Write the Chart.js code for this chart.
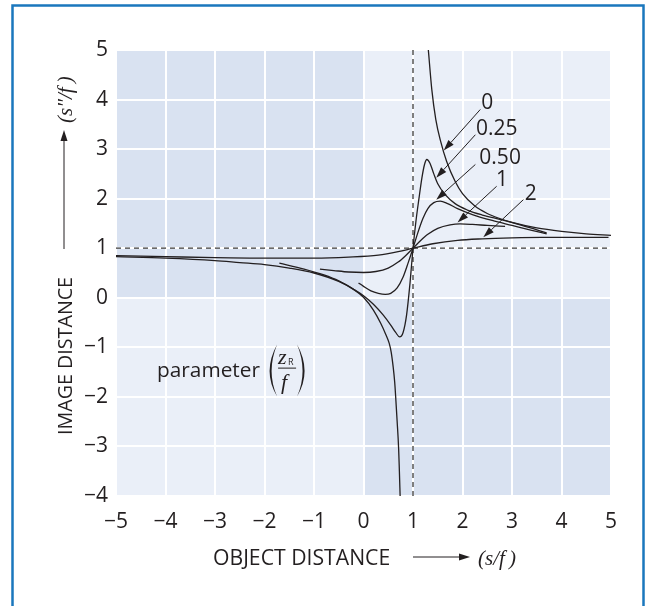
<!DOCTYPE html>
<html>
<head>
<meta charset="utf-8">
<script src="https://cdn.jsdelivr.net/npm/chart.js@4.4.1/dist/chart.umd.min.js"></script>
<style>
  html, body { margin: 0; padding: 0; background: #fff; }
</style>
</head>
<body>
<canvas id="imageChart" width="654" height="606"></canvas>
<script>
// tick labels
const xTickValues = [-5, -4, -3, -2, -1, 0, 1, 2, 3, 4, 5];
const yTickValues = [-4, -3, -2, -1, 0, 1, 2, 3, 4, 5];
const curveNames = ['0', '0.25', '0.50', '1', '2'];

// zR/f = 0 (two branches)
const zeroLeftX = [-5, -4, -3, -2.5, -2, -1.5, -1, -0.5, -0.2, 0, 0.2, 0.35, 0.45, 0.52, 0.56, 0.6, 0.63, 0.65, 0.68, 0.71, 0.725, 0.74];
const zeroLeftY = [0.83, 0.8, 0.75, 0.71, 0.67, 0.6, 0.5, 0.33, 0.17, 0.01, -0.25, -0.52, -0.74, -0.92, -1.1, -1.4, -1.7, -2.0, -2.5, -3.05, -3.5, -4.0];
const zeroRightX = [1.31, 1.38, 1.46, 1.56, 1.68, 1.85, 2.0, 2.25, 2.5, 2.75, 3.0, 3.5, 4.0, 4.5, 5.0];
const zeroRightY = [5.0, 4.2, 3.6, 3.15, 2.75, 2.35, 2.1, 1.85, 1.7, 1.6, 1.52, 1.41, 1.34, 1.29, 1.26];

// zR/f = 0.25
const quarterX = [-1.7, -1.2, -0.8, -0.5, -0.2, 0, 0.2, 0.4, 0.55, 0.65, 0.73, 0.8, 0.87, 0.94, 1.0, 1.06, 1.12, 1.18, 1.23, 1.28, 1.34, 1.42, 1.5, 1.65, 1.85, 2.1, 2.4, 2.8, 3.2, 3.7];
const quarterY = [0.70, 0.58, 0.46, 0.34, 0.17, 0.04, -0.13, -0.35, -0.55, -0.70, -0.79, -0.70, -0.35, 0.30, 1.0, 1.55, 2.0, 2.42, 2.68, 2.79, 2.72, 2.5, 2.3, 2.08, 1.9, 1.77, 1.67, 1.57, 1.46, 1.31];

// zR/f = 0.50
const halfX = [-0.1, 0, 0.15, 0.3, 0.44, 0.55, 0.68, 0.8, 0.9, 1.0, 1.1, 1.2, 1.3, 1.42, 1.55, 1.7, 1.9, 2.2, 2.6, 3.0, 3.4, 3.7];
const halfY = [0.30, 0.23, 0.14, 0.09, 0.07, 0.09, 0.2, 0.42, 0.7, 1.0, 1.32, 1.6, 1.8, 1.92, 1.95, 1.9, 1.8, 1.68, 1.56, 1.46, 1.36, 1.29];

// zR/f = 1
const oneX = [-0.88, -0.6, -0.3, 0, 0.25, 0.5, 0.7, 0.85, 1.0, 1.15, 1.3, 1.5, 1.75, 1.95, 2.2, 2.5, 2.86];
const oneY = [0.58, 0.55, 0.52, 0.51, 0.53, 0.6, 0.72, 0.85, 1.0, 1.15, 1.28, 1.4, 1.47, 1.49, 1.48, 1.46, 1.44];

// zR/f = 2
const twoX = [-5, -4, -3, -2, -1, -0.3, 0.3, 0.7, 1.0, 1.4, 1.9, 2.4, 3.0, 3.6, 4.2, 4.95];
const twoY = [0.85, 0.83, 0.81, 0.80, 0.80, 0.82, 0.86, 0.93, 1.0, 1.09, 1.16, 1.19, 1.21, 1.22, 1.22, 1.22];

const ink = '#231f20';
const sans = '"Open Sans", "Noto Sans", sans-serif';
const serif = '"Liberation Serif", "DejaVu Serif", serif';

function toPoints(xs, ys) {
  return xs.map((x, i) => ({ x: x, y: ys[i] }));
}

function curve(label, xs, ys) {
  return {
    label: label,
    data: toPoints(xs, ys),
    showLine: true,
    borderColor: ink,
    borderWidth: 1.3,
    pointRadius: 0,
    fill: false,
    cubicInterpolationMode: 'monotone'
  };
}

function arrow(ctx, x1, y1, x2, y2, head, half) {
  const ang = Math.atan2(y2 - y1, x2 - x1);
  const bx = x2 - head * Math.cos(ang), by = y2 - head * Math.sin(ang);
  ctx.beginPath();
  ctx.moveTo(x1, y1);
  ctx.lineTo(bx, by);
  ctx.stroke();
  ctx.beginPath();
  ctx.moveTo(x2, y2);
  ctx.lineTo(bx + half * Math.sin(ang), by - half * Math.cos(ang));
  ctx.lineTo(bx - half * Math.sin(ang), by + half * Math.cos(ang));
  ctx.closePath();
  ctx.fill();
}

// draw text sized so it spans a given width
function fitText(ctx, text, x, y, width, style, family) {
  ctx.font = style + ' 20px ' + family;
  const size = 20 * width / ctx.measureText(text).width;
  ctx.font = style + ' ' + size.toFixed(1) + 'px ' + family;
  ctx.fillText(text, x, y);
}

// curve labels with arrows, in data units
const notes = [
  { text: curveNames[0], at: [2.50, 3.93], from: [2.36, 3.80], to: [1.62, 2.97] },
  { text: curveNames[1], at: [2.69, 3.41], from: [2.26, 3.29], to: [1.47, 2.42] },
  { text: curveNames[2], at: [2.76, 2.82], from: [2.26, 2.69], to: [1.47, 1.98] },
  { text: curveNames[3], at: [2.80, 2.38], from: [2.69, 2.25], to: [1.90, 1.52] },
  { text: curveNames[4], at: [3.38, 2.10], from: [3.23, 1.98], to: [2.42, 1.22] }
];

const decor = {
  id: 'decor',
  beforeDraw(chart) {
    const { ctx, chartArea: a, scales: { x, y } } = chart;
    ctx.save();
    ctx.fillStyle = '#fff';
    ctx.fillRect(0, 0, chart.width, chart.height);
    ctx.strokeStyle = '#1a77bd';
    ctx.lineWidth = 2.5;
    ctx.strokeRect(12.5, 5.5, 631, 640);

    const x0 = x.getPixelForValue(0), y0 = y.getPixelForValue(0);
    ctx.fillStyle = '#eaeff8';
    ctx.fillRect(a.left, a.top, a.width, a.height);
    ctx.fillStyle = '#d9e2f1';
    ctx.fillRect(a.left, a.top, x0 - a.left, y0 - a.top);
    ctx.fillRect(x0, y0, a.right - x0, a.bottom - y0);
    ctx.restore();
  },
  beforeDatasetsDraw(chart) {
    const { ctx, chartArea: a, scales: { x, y } } = chart;
    const px = x.getPixelForValue(1), py = y.getPixelForValue(1);
    ctx.save();
    ctx.strokeStyle = '#3a3a3a';
    ctx.lineWidth = 1.3;
    ctx.setLineDash([5, 4]);
    ctx.beginPath();
    ctx.moveTo(a.left, py);
    ctx.lineTo(a.right, py);
    ctx.moveTo(px, a.top);
    ctx.lineTo(px, a.bottom);
    ctx.stroke();
    ctx.restore();
  },
  afterDatasetsDraw(chart) {
    const { ctx, chartArea: a, scales: { x, y } } = chart;
    ctx.save();
    ctx.fillStyle = ink;
    ctx.strokeStyle = ink;
    ctx.lineWidth = 1;

    // curve labels
    ctx.font = '21px ' + sans;
    ctx.textAlign = 'center';
    ctx.textBaseline = 'middle';
    notes.forEach((n) => {
      ctx.fillText(n.text, x.getPixelForValue(n.at[0]), y.getPixelForValue(n.at[1]));
      arrow(ctx, x.getPixelForValue(n.from[0]), y.getPixelForValue(n.from[1]),
        x.getPixelForValue(n.to[0]), y.getPixelForValue(n.to[1]), 11, 3.5);
    });

    // parameter (zR / f)
    const ax = x.getPixelForValue(-4.17), ay = y.getPixelForValue(-1.49);
    ctx.textAlign = 'left';
    ctx.textBaseline = 'alphabetic';
    fitText(ctx, 'parameter', ax, ay + 5, 103, '', sans);
    const lp = ax + 120, rp = ax + 140;
    ctx.beginPath();
    ctx.moveTo(lp, ay - 27);
    ctx.quadraticCurveTo(lp - 15, ay, lp, ay + 25);
    ctx.quadraticCurveTo(lp - 11, ay, lp, ay - 27);
    ctx.fill();
    ctx.beginPath();
    ctx.moveTo(rp, ay - 27);
    ctx.quadraticCurveTo(rp + 15, ay, rp, ay + 25);
    ctx.quadraticCurveTo(rp + 11, ay, rp, ay - 27);
    ctx.fill();
    ctx.font = 'italic 22px ' + serif;
    ctx.fillText('z', ax + 121, ay - 8);
    ctx.font = '9px ' + sans;
    ctx.fillText('R', ax + 131, ay - 7);
    ctx.beginPath();
    ctx.moveTo(ax + 121, ay - 3.5);
    ctx.lineTo(ax + 139, ay - 3.5);
    ctx.stroke();
    ctx.font = 'italic 22px ' + serif;
    ctx.fillText('f', ax + 124, ay + 17);

    // x axis title
    const tx = a.left + 97, ty = a.bottom + 69;
    fitText(ctx, 'OBJECT DISTANCE', tx, ty, 177, '', sans);
    arrow(ctx, tx + 200, ty - 8, tx + 257, ty - 8, 11, 3.5);
    ctx.font = 'italic 21px ' + serif;
    ctx.fillText('(s/f\u2009)', tx + 265, ty);

    // y axis title, rotated
    ctx.translate(a.left - 51, a.bottom - 61);
    ctx.rotate(-Math.PI / 2);
    fitText(ctx, 'IMAGE DISTANCE', 0, 7, 158, '', sans);
    arrow(ctx, 186, -1, 305, -1, 11, 3.5);
    ctx.font = 'italic 21px ' + serif;
    ctx.fillText('(s\u2033/f\u2009)', 312, 7);
    ctx.restore();
  }
};

const tickFont = { family: sans, size: 21 };
const minus = (v) => String(v).replace('-', '\u2212');

new Chart(document.getElementById('imageChart'), {
  type: 'scatter',
  data: {
    datasets: [
      curve(curveNames[0], zeroLeftX, zeroLeftY),
      curve(curveNames[0], zeroRightX, zeroRightY),
      curve(curveNames[1], quarterX, quarterY),
      curve(curveNames[2], halfX, halfY),
      curve(curveNames[3], oneX, oneY),
      curve(curveNames[4], twoX, twoY)
    ]
  },
  options: {
    responsive: false,
    animation: false,
    devicePixelRatio: 1,
    layout: { padding: { top: 50, right: 43, left: 0, bottom: 0 } },
    plugins: { legend: { display: false }, tooltip: { enabled: false } },
    scales: {
      x: {
        type: 'linear',
        min: -5,
        max: 5,
        afterBuildTicks: (scale) => { scale.ticks = xTickValues.map((v) => ({ value: v })); },
        afterFit: (scale) => { scale.height = 110; },
        ticks: { font: tickFont, color: ink, padding: 13, maxRotation: 0, callback: minus },
        grid: { color: '#ffffff', lineWidth: 2, drawTicks: false },
        border: { display: false }
      },
      y: {
        type: 'linear',
        min: -4,
        max: 5,
        afterBuildTicks: (scale) => { scale.ticks = yTickValues.map((v) => ({ value: v })); },
        afterFit: (scale) => { scale.width = 116; },
        ticks: { font: tickFont, color: ink, padding: 8, callback: minus },
        grid: { color: '#ffffff', lineWidth: 2, drawTicks: false },
        border: { display: false }
      }
    }
  },
  plugins: [decor]
});
</script>
</body>
</html>
